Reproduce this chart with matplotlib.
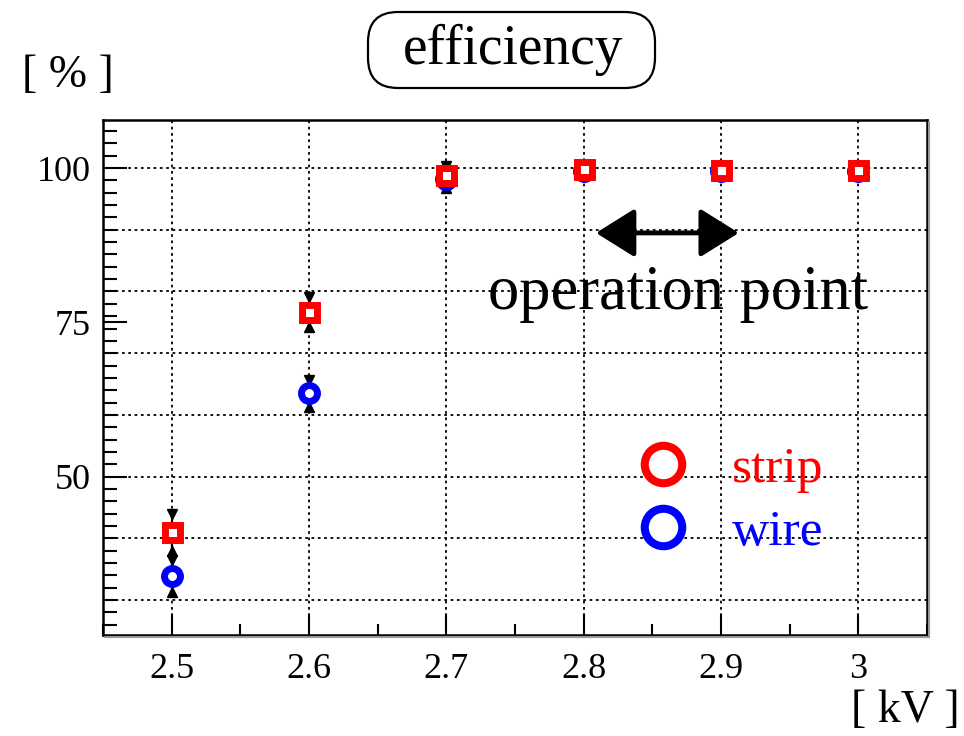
import matplotlib.pyplot as plt
import numpy as np
from matplotlib.lines import Line2D
from matplotlib.patches import FancyBboxPatch
from matplotlib.ticker import MultipleLocator, FixedLocator

plt.rcParams['font.family'] = ['Liberation Serif', 'DejaVu Serif']

# High voltage settings [kV]
voltage = [2.5, 2.6, 2.7, 2.8, 2.9, 3.0]

# Efficiency [%] and errors for the two readouts
strip_eff = [41.0, 76.7, 98.9, 99.8, 99.7, 99.7]
strip_err = [3.0, 2.4, 1.5, 0.5, 0.5, 0.5]
wire_eff = [33.8, 63.5, 98.2, 99.6, 99.5, 99.5]
wire_err = [2.6, 2.2, 1.5, 0.5, 0.5, 0.5]

y_labels = [50, 75, 100]
grid_levels = np.arange(30, 101, 10)

fig = plt.figure(figsize=(9.64, 7.36), dpi=100)
ax = fig.add_axes([0.1068, 0.1372, 0.8548, 0.6997])

dots = (0, (1.5, 2.0))
for g in grid_levels:
    ax.axhline(g, color='black', lw=1.3, ls=dots, zorder=1)
for v in voltage:
    ax.axvline(v, color='black', lw=1.3, ls=dots, zorder=1)

# error bars
ax.errorbar(voltage, wire_eff, yerr=wire_err, fmt='none', ecolor='black',
            elinewidth=1.6, zorder=2)
ax.errorbar(voltage, strip_eff, yerr=strip_err, fmt='none', ecolor='black',
            elinewidth=1.6, zorder=2)
for eff, err in [(wire_eff, wire_err), (strip_eff, strip_err)]:
    e = np.array(eff)
    d = np.array(err)
    ax.plot(voltage, e + d, ls='none', marker='v', ms=7, color='black', zorder=2)
    ax.plot(voltage, e - d, ls='none', marker='^', ms=7, color='black', zorder=2)

ax.plot(voltage, wire_eff, ls='none', marker='o', ms=11.5, mfc='white',
        mec='#0000ff', mew=5, zorder=3)
ax.plot(voltage, strip_eff, ls='none', marker='s', ms=10.8, mfc='white',
        mec='#ff0000', mew=5, zorder=4)

ax.set_xlim(2.45, 3.05)
ax.set_ylim(24.3, 107.8)

ax.xaxis.set_major_locator(FixedLocator(voltage))
ax.xaxis.set_minor_locator(MultipleLocator(0.05))
ax.set_xticklabels(['2.5', '2.6', '2.7', '2.8', '2.9', '3'])
ax.yaxis.set_major_locator(FixedLocator(y_labels))
ax.yaxis.set_minor_locator(MultipleLocator(2))
ax.set_yticklabels([str(v) for v in y_labels])

ax.tick_params(axis='both', which='both', direction='in', colors='black',
               labelsize=26)
ax.tick_params(axis='x', which='major', length=15, width=1.5, pad=13)
ax.tick_params(axis='x', which='minor', length=8, width=1.5)
ax.tick_params(axis='y', which='major', length=17, width=1.5, pad=9)
ax.tick_params(axis='y', which='minor', length=10, width=1.5)
for s in ax.spines.values():
    s.set_linewidth(1.8)

# operation point marker
ax.annotate('', xy=(2.913, 89.5), xytext=(2.809, 89.5),
            arrowprops=dict(arrowstyle='<|-|>,head_length=0.8,head_width=0.5',
                            color='black', lw=3.5, mutation_scale=30,
                            shrinkA=0, shrinkB=0))
ax.text(2.869, 77.2, 'operation point', fontsize=45, ha='center',
        va='baseline', color='black')

handles = [Line2D([], [], ls='none', marker='o', ms=27, mfc='white',
                  mec='#ff0000', mew=5.8),
           Line2D([], [], ls='none', marker='o', ms=27, mfc='white',
                  mec='#0000ff', mew=5.8)]
ax.legend(handles, ['strip', 'wire'], loc='center left',
          bbox_to_anchor=(0.648, 0.26), frameon=False, fontsize=37,
          labelcolor=['#ff0000', '#0000ff'], handlelength=1.0,
          handletextpad=0.85, labelspacing=0.3, borderpad=0,
          borderaxespad=0, numpoints=1)

# frame shadow on the right and bottom
fig.add_artist(Line2D([0.9616 + 0.002, 0.9616 + 0.002],
                      [0.1372 - 0.003, 0.8369 - 0.003],
                      transform=fig.transFigure, color='#999999', lw=1.5))
fig.add_artist(Line2D([0.1068 + 0.002, 0.9616 + 0.002],
                      [0.1372 - 0.003, 0.1372 - 0.003],
                      transform=fig.transFigure, color='#999999', lw=1.5))

# title in a rounded box
box = FancyBboxPatch((3.68, 6.48), 2.87, 0.76,
                     boxstyle='round,pad=0,rounding_size=0.3',
                     transform=fig.dpi_scale_trans, fc='white', ec='black',
                     lw=1.6)
fig.add_artist(box)
fig.text(513 / 964, 1 - 50 / 736, 'efficiency', fontsize=40, ha='center',
         va='center')

fig.text(22 / 964, 1 - 76 / 736, '[ % ]', fontsize=33, ha='left', va='center')
fig.text(960 / 964, 1 - 711 / 736, '[ kV ]', fontsize=33, ha='right',
         va='center')

fig.savefig('out.png', dpi=100)
